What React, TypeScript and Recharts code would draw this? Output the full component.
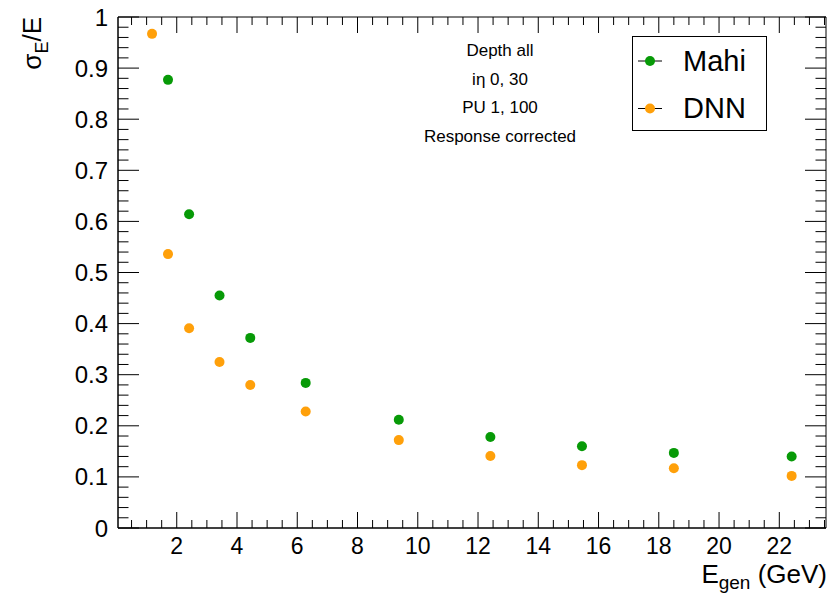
import React from 'react';
import { ScatterChart, Scatter, XAxis, YAxis, ReferenceArea } from 'recharts';

// values
const mahiEnergy = [1.71, 2.41, 3.42, 4.44, 6.28, 9.37, 12.41, 15.45, 18.5, 22.41];
const mahiResolution = [0.877, 0.614, 0.455, 0.372, 0.284, 0.212, 0.178, 0.16, 0.147, 0.14];
const dnnEnergy = [1.18, 1.71, 2.41, 3.42, 4.44, 6.28, 9.37, 12.41, 15.45, 18.5, 22.41];
const dnnResolution = [0.967, 0.536, 0.391, 0.325, 0.28, 0.228, 0.172, 0.141, 0.123, 0.117, 0.102];

const xMajorTicks = [2, 4, 6, 8, 10, 12, 14, 16, 18, 20, 22];
const yMajorTicks = [0, 0.1, 0.2, 0.3, 0.4, 0.5, 0.6, 0.7, 0.8, 0.9, 1];
const annotations = ['Depth all', 'iη 0, 30', 'PU 1, 100', 'Response corrected'];

const mahiData = mahiEnergy.map((x, i) => ({ x, y: mahiResolution[i] }));
const dnnData = dnnEnergy.map((x, i) => ({ x, y: dnnResolution[i] }));

// minor tick positions (4 per x major, 5 per y major, like ROOT)
const xTicks: number[] = [];
for (let i = 1; i <= 47; i++) xTicks.push(i * 0.5);
const yTicks: number[] = [];
for (let i = 0; i <= 50; i++) yTicks.push(i / 50);

const FONT = '"Liberation Sans", Arial, Helvetica, sans-serif';
const GREEN = '#079a07';
const ORANGE = '#ffa00a';
const PLOT_W = 708;
const PLOT_H = 511;

const XTick = (props: any) => {
  const { x, y, payload } = props;
  const v = payload.value;
  const major = xMajorTicks.includes(v);
  const len = major ? 16 : 8;
  return (
    <g>
      <line x1={x} y1={y} x2={x} y2={y - len} stroke="#000" strokeWidth={1} />
      <line x1={x} y1={y - PLOT_H} x2={x} y2={y - PLOT_H + len} stroke="#000" strokeWidth={1} />
      {major && (
        <text x={x} y={y + 26} textAnchor="middle" fontSize={23} fontFamily={FONT} fill="#000">
          {v}
        </text>
      )}
    </g>
  );
};

const YTick = (props: any) => {
  const { x, y, payload } = props;
  const v = payload.value;
  const major = yMajorTicks.some((t) => Math.abs(t - v) < 1e-6);
  const len = major ? 21 : 10.5;
  return (
    <g>
      <line x1={x} y1={y} x2={x + len} y2={y} stroke="#000" strokeWidth={1} />
      <line x1={x + PLOT_W} y1={y} x2={x + PLOT_W - len} y2={y} stroke="#000" strokeWidth={1} />
      {major && (
        <text x={x - 10} y={y + 8.5} textAnchor="end" fontSize={24} fontFamily={FONT} fill="#000">
          {String(Math.round(v * 10) / 10)}
        </text>
      )}
    </g>
  );
};

const Dot = (color: string) => (props: any) => <circle cx={props.cx} cy={props.cy} r={5} fill={color} />;

const App: React.FC = () => {
  return (
    <div style={{ position: 'absolute', left: 0, top: 0, width: 834, height: 593, background: '#fff' }}>
      <ScatterChart width={834} height={593} margin={{ top: 17, right: 8, bottom: 0, left: 0 }}>
        <XAxis
          type="number"
          dataKey="x"
          domain={[0.05, 23.55]}
          ticks={xTicks}
          interval={0}
          allowDataOverflow
          height={65}
          tickSize={0}
          tickMargin={0}
          tickLine={false}
          axisLine={{ stroke: '#000' }}
          tick={<XTick />}
        />
        <YAxis
          type="number"
          dataKey="y"
          domain={[0, 1]}
          ticks={yTicks}
          interval={0}
          allowDataOverflow
          width={118}
          tickSize={0}
          tickMargin={0}
          tickLine={false}
          axisLine={{ stroke: '#000' }}
          tick={<YTick />}
        />
        <ReferenceArea x1={0.05} x2={23.55} y1={0} y2={1} stroke="#000" strokeWidth={1} fill="none" fillOpacity={0} ifOverflow="visible" />
        <Scatter name="Mahi" data={mahiData} fill={GREEN} shape={Dot(GREEN)} isAnimationActive={false} />
        <Scatter name="DNN" data={dnnData} fill={ORANGE} shape={Dot(ORANGE)} isAnimationActive={false} />
      </ScatterChart>

      <svg width={834} height={593} style={{ position: 'absolute', left: 0, top: 0, pointerEvents: 'none' }}>
        {/* annotation block */}
        {annotations.map((t, i) => (
          <text key={t} x={500} y={56 + i * 28.6} textAnchor="middle" fontSize={17} fontFamily={FONT} fill="#000">
            {t}
          </text>
        ))}

        {/* legend */}
        <rect x={632.5} y={36.5} width={134} height={94} fill="#fff" stroke="#000" strokeWidth={1} />
        <line x1={638} y1={61} x2={662} y2={61} stroke="#000" strokeWidth={1} />
        <circle cx={650} cy={61} r={5} fill={GREEN} />
        <text x={683} y={70.5} fontSize={29} fontFamily={FONT} fill="#000">Mahi</text>
        <line x1={638} y1={108.5} x2={662} y2={108.5} stroke="#000" strokeWidth={1} />
        <circle cx={650} cy={108.5} r={5} fill={ORANGE} />
        <text x={683} y={118} fontSize={29} fontFamily={FONT} fill="#000">DNN</text>

        {/* axis titles */}
        <text x={827} y={583} textAnchor="end" fontSize={26} fontFamily={FONT} fill="#000">
          E<tspan fontSize={19} dy={6}>gen</tspan>
          <tspan dy={-6}> (GeV)</tspan>
        </text>
        <text transform="translate(41,17) rotate(-90)" textAnchor="end" fontSize={26} fontFamily={FONT} fill="#000">
          σ<tspan fontSize={18} dy={7}>E</tspan>
          <tspan dy={-7}>/E</tspan>
        </text>
      </svg>
    </div>
  );
};

export default App;
